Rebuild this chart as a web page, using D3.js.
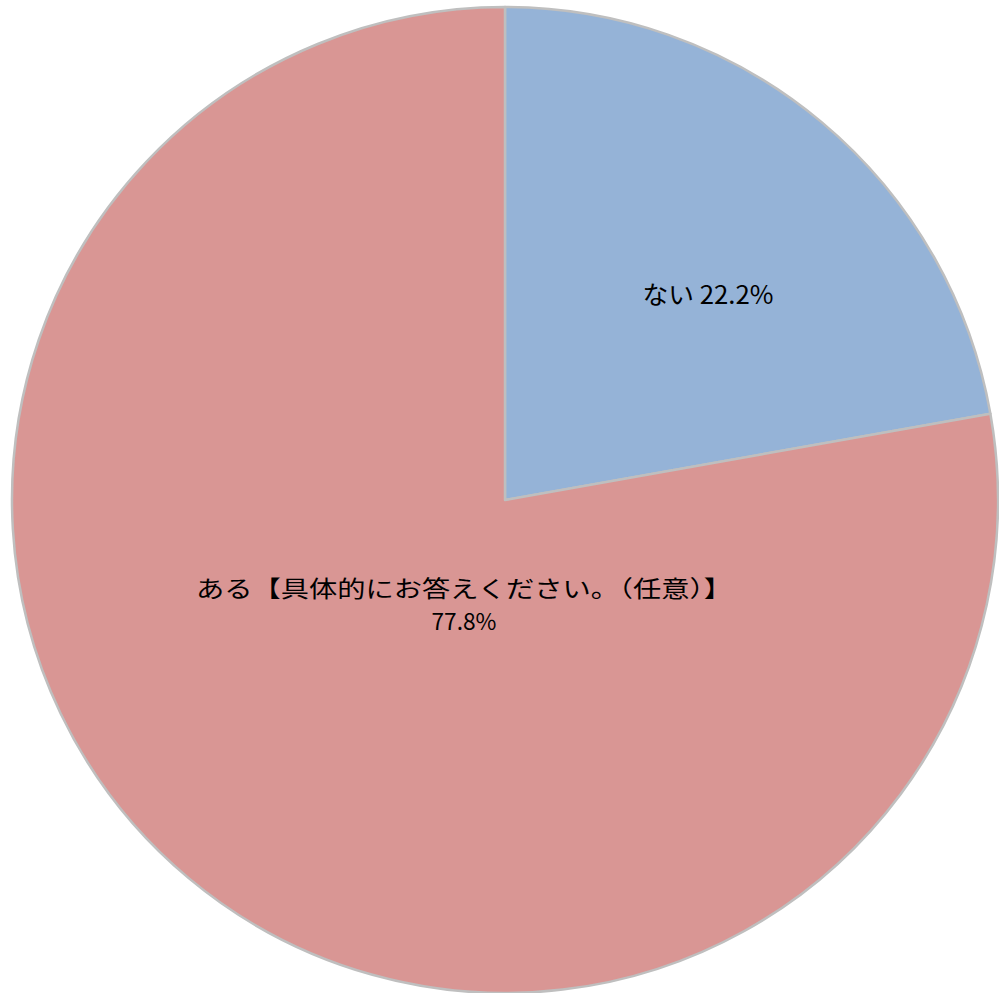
<!DOCTYPE html>
<html>
<head>
<meta charset="utf-8">
<script src="https://cdn.jsdelivr.net/npm/d3@7"></script>
<style>
  html, body { margin: 0; padding: 0; background: #ffffff; }
  svg { display: block; }
</style>
</head>
<body>
<svg id="chart" width="999" height="993"></svg>
<script>
// Survey answers and their shares (%)
const categories = ["ない", "ある【具体的にお答えください。（任意）】"];
const values = [22.2, 77.8];
const valueLabels = ["22.2%", "77.8%"];
const colors = ["#95B3D7", "#D99694"];

const svg = d3.select("#chart");
const cx = 505, cy = 500, radius = 493;

const g = svg.append("g").attr("transform", `translate(${cx},${cy})`);

const pie = d3.pie().sort(null).value(d => d.value);
const data = categories.map((c, i) => ({ name: c, value: values[i], label: valueLabels[i], color: colors[i] }));
const arcs = pie(data);

const arc = d3.arc().innerRadius(0).outerRadius(radius);

g.selectAll("path.slice")
  .data(arcs)
  .join("path")
  .attr("class", "slice")
  .attr("d", arc)
  .attr("fill", d => d.data.color)
  .attr("stroke", "#BFBFBF")
  .attr("stroke-width", 2.5)
  .attr("stroke-linejoin", "round");

// Data labels (widths fixed per line)
const fontFamily = "'Noto Sans CJK JP', 'Noto Sans', sans-serif";

function label(x, y, str, width, size) {
  g.append("text")
    .attr("x", x)
    .attr("y", y)
    .attr("text-anchor", "middle")
    .attr("font-family", fontFamily)
    .attr("font-size", size)
    .attr("fill", "#000")
    .attr("textLength", width)
    .attr("lengthAdjust", "spacingAndGlyphs")
    .text(str);
}

// Small slice: single line label
label(708 - cx, 304 - cy, arcs[0].data.name + " " + arcs[0].data.label, 131, 25);

// Large slice: two-line label
label(464 - cx, 597 - cy, arcs[1].data.name, 536, 23);
label(464 - cx, 630 - cy, arcs[1].data.label, 65, 23);
</script>
</body>
</html>
